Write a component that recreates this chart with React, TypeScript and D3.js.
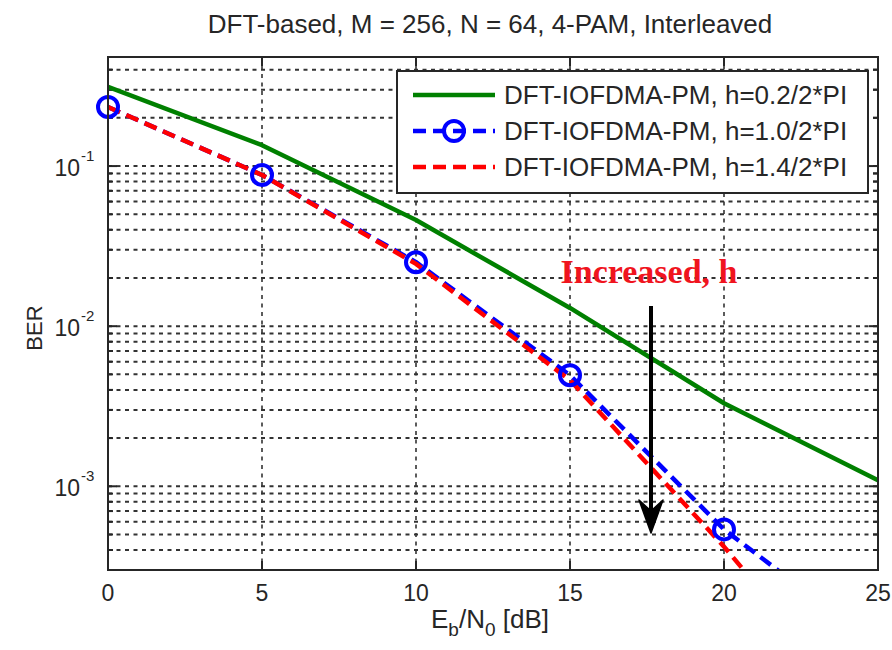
import React from "react";
import * as d3 from "d3";

// Eb/N0 [dB]
const snrDb = [0, 5, 10, 15, 20, 25];

// BER per modulation index h
const berH02 = [0.312, 0.135, 0.046, 0.013, 0.0033, 0.00109];
const berH10 = [0.234, 0.088, 0.0251, 0.00494, 0.000538, 0.0001];
const berH14 = [0.234, 0.088, 0.0245, 0.0046, 0.00042, 0.00003];

const seriesNames = [
  "DFT-IOFDMA-PM, h=0.2/2*PI",
  "DFT-IOFDMA-PM, h=1.0/2*PI",
  "DFT-IOFDMA-PM, h=1.4/2*PI",
];

const xTicks = [0, 5, 10, 15, 20, 25];
const yMajorTicks = [1e-3, 1e-2, 1e-1];
const yExponents = ["-3", "-2", "-1"];

const W = 892;
const H = 650;
const FONT = "'Liberation Sans', Arial, Helvetica, sans-serif";
const INK = "#262626";

export default function App() {
  const left = 108, right = 878, top = 57, bottom = 570;

  const x = d3.scaleLinear().domain([0, 25]).range([left, right]);
  const y = d3.scaleLog().domain([3e-4, 0.48]).range([bottom, top]);

  // minor grid values 1..9 x 10^k inside the domain
  const gridY: number[] = [];
  for (let k = -4; k <= 0; k++) {
    for (let m = 1; m <= 9; m++) {
      const v = m * Math.pow(10, k);
      if (v > 3e-4 && v < 0.48) gridY.push(v);
    }
  }

  const line = d3
    .line<number>()
    .x((_, i) => x(snrDb[i]))
    .y((d) => y(d));

  const series = [
    { name: seriesNames[0], data: berH02, color: "#008000", dash: undefined, marker: false },
    { name: seriesNames[1], data: berH10, color: "#0000ff", dash: "13 7", marker: true },
    { name: seriesNames[2], data: berH14, color: "#ff0000", dash: "13 7", marker: false },
  ];

  // legend box
  const lg = { x0: 397, x1: 868, y0: 71, y1: 193 };
  const rowY = [95, 131, 167];

  return (
    <svg
      width={W}
      height={H}
      viewBox={`0 0 ${W} ${H}`}
      style={{ position: "absolute", left: 0, top: 0, background: "#fff" }}
    >
      <defs>
        <clipPath id="plotClip">
          <rect x={left} y={top} width={right - left} height={bottom - top} />
        </clipPath>
      </defs>
      <rect x={0} y={0} width={W} height={H} fill="#fff" />

      {/* title */}
      <text x={490} y={33} textAnchor="middle" fontFamily={FONT} fontSize={26} fill={INK}>
        DFT-based, M = 256, N = 64, 4-PAM, Interleaved
      </text>

      {/* grid */}
      <g stroke="#333" fill="none">
        {gridY.map((v, i) => (
          <line key={"gy" + i} x1={left} x2={right} y1={y(v)} y2={y(v)} strokeWidth={2} strokeDasharray="4 4.5" />
        ))}
        {xTicks.slice(1, -1).map((t) => (
          <line key={"gx" + t} x1={x(t)} x2={x(t)} y1={top} y2={bottom} strokeWidth={1.6} strokeDasharray="4 4.5" />
        ))}
      </g>

      {/* ticks */}
      <g stroke={INK} strokeWidth={2}>
        {xTicks.map((t) => (
          <g key={"xt" + t}>
            <line x1={x(t)} x2={x(t)} y1={bottom} y2={bottom - 9} />
            <line x1={x(t)} x2={x(t)} y1={top} y2={top + 9} />
          </g>
        ))}
        {gridY.map((v, i) => {
          const len = yMajorTicks.includes(v) ? 9 : 5;
          return (
            <g key={"yt" + i}>
              <line x1={left} x2={left + len} y1={y(v)} y2={y(v)} />
              <line x1={right} x2={right - len} y1={y(v)} y2={y(v)} />
            </g>
          );
        })}
      </g>

      {/* curves */}
      <g clipPath="url(#plotClip)" fill="none">
        {series.map((s) => (
          <path
            key={s.name}
            d={line(s.data) || ""}
            stroke={s.color}
            strokeWidth={4.5}
            strokeDasharray={s.dash}
            strokeLinejoin="round"
          />
        ))}
      </g>
      {series
        .filter((s) => s.marker)
        .map((s) =>
          s.data.map((v, i) =>
            v >= 3e-4 ? (
              <circle key={s.name + i} cx={x(snrDb[i])} cy={y(v)} r={10} fill="none" stroke={s.color} strokeWidth={4} />
            ) : null
          )
        )}

      {/* frame */}
      <rect x={left} y={top} width={right - left} height={bottom - top} fill="none" stroke={INK} strokeWidth={2} />

      {/* x tick labels */}
      {xTicks.map((t) => (
        <text key={"xl" + t} x={x(t)} y={601} textAnchor="middle" fontFamily={FONT} fontSize={23} fill={INK}>
          {t}
        </text>
      ))}

      {/* y tick labels */}
      {yMajorTicks.map((v, i) => (
        <g key={"yl" + i} fontFamily={FONT} fill={INK}>
          <text x={80} y={y(v) + 10} textAnchor="end" fontSize={23}>10</text>
          <text x={81} y={y(v) - 5} fontSize={15}>{yExponents[i]}</text>
        </g>
      ))}

      {/* axis labels */}
      <text x={490} y={628} textAnchor="middle" fontFamily={FONT} fontSize={26} fill={INK}>
        E<tspan fontSize={19} dy={8}>b</tspan>
        <tspan dy={-8}>/N</tspan>
        <tspan fontSize={19} dy={8}>0</tspan>
        <tspan dy={-8}> [dB]</tspan>
      </text>
      <text
        transform={`translate(42, 328) rotate(-90)`}
        textAnchor="middle"
        fontFamily={FONT}
        fontSize={22}
        fill={INK}
      >
        BER
      </text>

      {/* annotation */}
      <text
        x={649}
        y={283}
        textAnchor="middle"
        fontFamily="'Liberation Serif', 'Times New Roman', serif"
        fontWeight="bold"
        fontSize={34}
        fill="#f0141e"
      >
        Increased, h
      </text>
      <line x1={651} x2={651} y1={306} y2={515} stroke="#000" strokeWidth={4} />
      <path d="M651,533 L639,500 L651,511 L663,500 Z" fill="#000" stroke="#000" strokeWidth={1.5} strokeLinejoin="round" />

      {/* legend */}
      <rect x={lg.x0} y={lg.y0} width={lg.x1 - lg.x0} height={lg.y1 - lg.y0} fill="#fff" stroke={INK} strokeWidth={2} />
      {series.map((s, i) => (
        <g key={"lg" + i}>
          <line x1={413} x2={495} y1={rowY[i]} y2={rowY[i]} stroke={s.color} strokeWidth={4.5} strokeDasharray={s.dash} />
          {s.marker && <circle cx={454} cy={rowY[i]} r={10} fill="none" stroke={s.color} strokeWidth={4} />}
          <text x={504} y={rowY[i] + 9} fontFamily={FONT} fontSize={26} fill={INK}>
            {s.name}
          </text>
        </g>
      ))}
    </svg>
  );
}
